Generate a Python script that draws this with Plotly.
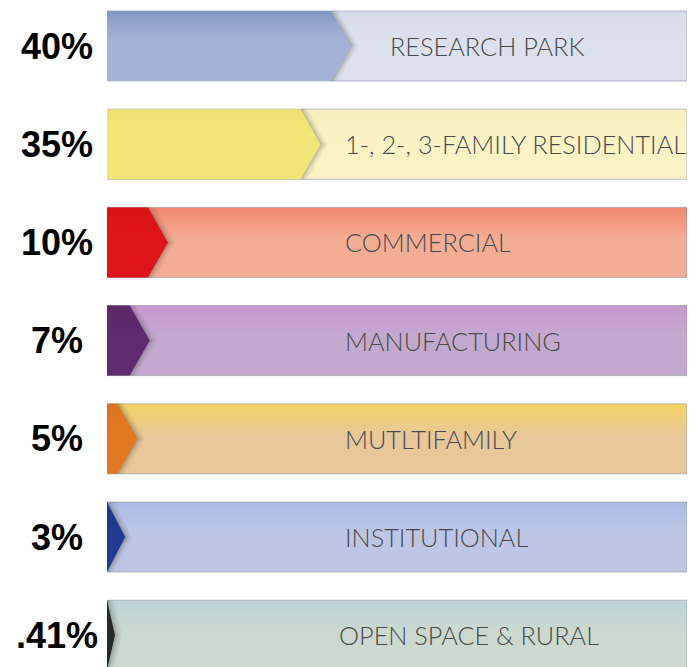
import plotly.graph_objects as go

# ---- data ----
categories = ["RESEARCH PARK", "1-, 2-, 3-FAMILY RESIDENTIAL", "COMMERCIAL",
              "MANUFACTURING", "MUTLTIFAMILY", "INSTITUTIONAL", "OPEN SPACE & RURAL"]
values = [40, 35, 10, 7, 5, 3, 0.41]
value_labels = ["40%", "35%", "10%", "7%", "5%", "3%", ".41%"]

# ---- style ----
arrow_colors = ["#A4B3D5", "#F0E677", "#DE141B", "#5E2A70", "#E07A22", "#203B8F", "#242C23"]
arrow_top = ["#8397C5", "#EEE272", "#DA1218", "#5A2769", "#DD7420", "#1E378A", "#222A21"]
band_top = ["#D6DBEC", "#F8EEBE", "#F2876F", "#C898D0", "#F6D462", "#A9BCE6", "#BDD3D8"]
band_bottom = ["#DDE1EE", "#FBF3C6", "#F3AD95", "#C4A9CF", "#E8C89A", "#BDC7E5", "#CBD9D0"]
label_x_px = [388, 343, 343, 343, 343, 343, 337]

W, H = 694, 667
L, R = 107, 7
plot_w = W - L - R
PX_PER_PCT = 6.1
x_max = plot_w / PX_PER_PCT
ROW_STEP = 98.2
FIRST_CENTER = 46
HALF = 35 / ROW_STEP
y_top = -FIRST_CENTER / ROW_STEP
y_bot = (H - FIRST_CENTER) / ROW_STEP
ARROW_DEPTH = 20 / PX_PER_PCT
MIN_TIP = 8 / PX_PER_PCT

fig = go.Figure()

for i, (cat, v) in enumerate(zip(categories, values)):
    t, b = i - HALF, i + HALF
    # band
    fig.add_trace(go.Scatter(
        x=[0, x_max, x_max, 0, 0], y=[t, t, b, b, t], mode="lines",
        fill="toself",
        fillgradient=dict(type="vertical",
                          colorscale=[[0, band_top[i]], [0.45, band_bottom[i]], [1, band_bottom[i]]],
                          start=t, stop=b),
        line=dict(color="rgba(140,140,150,0.55)", width=1),
        hoverinfo="skip", showlegend=False))
    tip = max(v, MIN_TIP)
    sh = max(tip - ARROW_DEPTH, 0)
    # shadow
    for k, op in [(7, 0.05), (5, 0.07), (3, 0.09), (1.5, 0.1)]:
        dx = k / PX_PER_PCT
        fig.add_trace(go.Scatter(
            x=[0, sh + dx, tip + dx, sh + dx, 0, 0],
            y=[t, t, i, b, b, t], mode="lines", fill="toself",
            fillcolor=f"rgba(60,50,40,{op})", line=dict(width=0),
            hoverinfo="skip", showlegend=False))
    # arrow
    fig.add_trace(go.Scatter(
        x=[0, sh, tip, sh, 0, 0], y=[t, t, i, b, b, t], mode="lines",
        fill="toself",
        fillgradient=dict(type="vertical",
                          colorscale=[[0, arrow_top[i]], [0.4, arrow_colors[i]], [1, arrow_colors[i]]],
                          start=t, stop=b),
        line=dict(width=0),
        hoverinfo="skip", showlegend=False))
    # category label
    fig.add_annotation(x=(label_x_px[i] - L) / PX_PER_PCT, y=i, xref="x", yref="y",
                       text=cat, showarrow=False, xanchor="left", yanchor="middle",
                       font=dict(family="Lato", size=25.3, color="#4a4a4a", weight=300))
    # value label
    fig.add_annotation(x=(56.5 - L) / plot_w, y=i, xref="paper", yref="y",
                       text=value_labels[i], showarrow=False, xanchor="center", yanchor="middle",
                       font=dict(family="Liberation Sans", size=36, color="#000000", weight="bold"))

fig.update_xaxes(range=[0, x_max], visible=False, fixedrange=True)
fig.update_yaxes(range=[y_bot, y_top], visible=False, fixedrange=True)
fig.update_layout(width=W, height=H, margin=dict(l=L, r=R, t=0, b=0),
                  paper_bgcolor="white", plot_bgcolor="white", showlegend=False)
fig.write_html("out.html", config={"displayModeBar": False},
               post_script="document.body.style.margin='0';document.body.style.overflow='hidden';")
